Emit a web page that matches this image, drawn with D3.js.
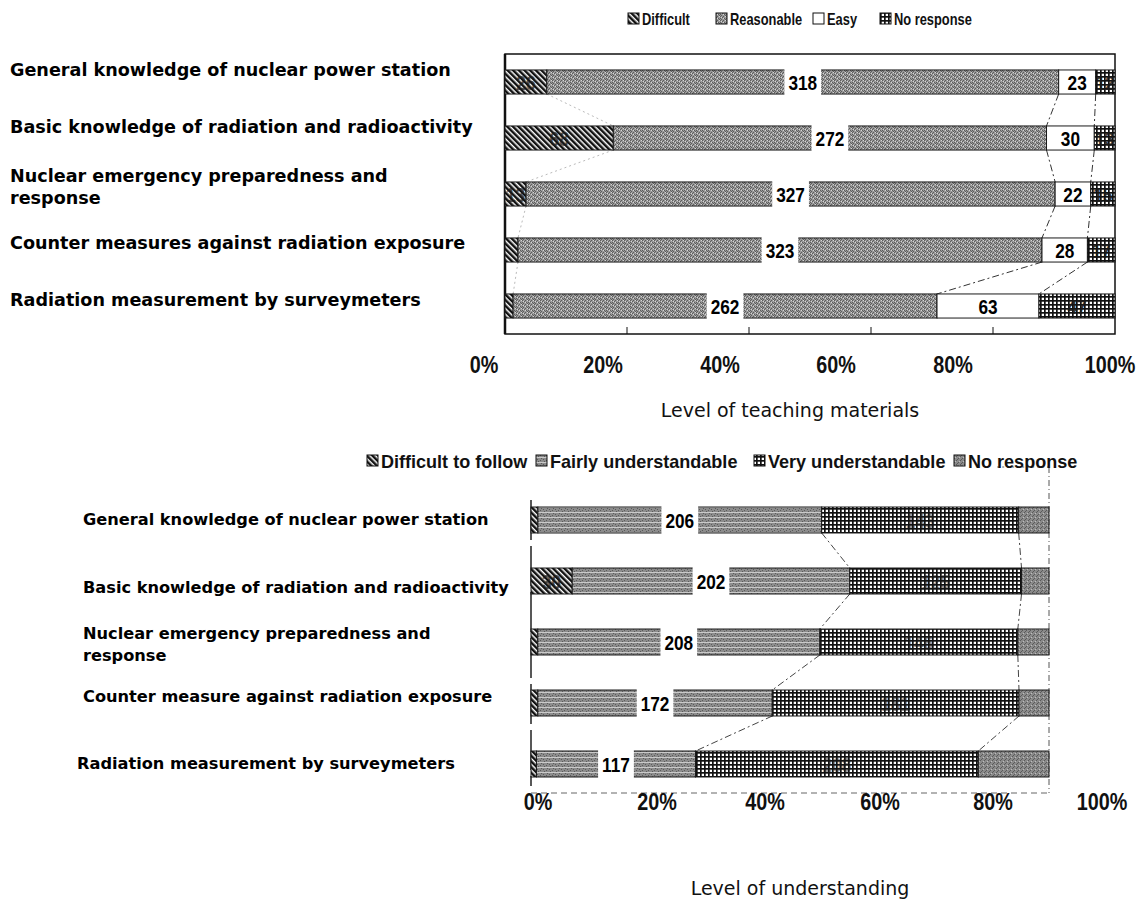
<!DOCTYPE html>
<html>
<head>
<meta charset="utf-8">
<script src="https://cdn.jsdelivr.net/npm/d3@7"></script>
<style>
  body { margin: 0; background: #fff; }
  svg { display: block; }
</style>
</head>
<body>
<svg id="chart" width="1148" height="904"></svg>
<script>
// ---------- Level of teaching materials ----------
const topCategories = [
  ["General knowledge of nuclear power station"],
  ["Basic knowledge of radiation and radioactivity"],
  ["Nuclear emergency preparedness and", "response"],
  ["Counter measures against radiation exposure"],
  ["Radiation measurement by surveymeters"]
];
const topSeriesNames = ["Difficult", "Reasonable", "Easy", "No response"];
const topDifficult  = [26, 68, 13, 8, 5];
const topReasonable = [318, 272, 327, 323, 262];
const topEasy       = [23, 30, 22, 28, 63];
const topNoResponse = [12, 13, 15, 17, 47];

// ---------- Level of understanding ----------
const bottomCategories = [
  ["General knowledge of nuclear power station"],
  ["Basic knowledge of radiation and radioactivity"],
  ["Nuclear emergency preparedness and", "response"],
  ["Counter measure against radiation exposure"],
  ["Radiation measurement by surveymeters"]
];
const bottomSeriesNames = ["Difficult to follow", "Fairly understandable", "Very understandable", "No response"];
const bottomDifficult  = [5, 30, 5, 5, 4];
const bottomFairly     = [206, 202, 208, 172, 117];
const bottomVery       = [143, 125, 146, 181, 208];
const bottomNoResponse = [22, 20, 23, 22, 52];

const percentTicks = [0, 20, 40, 60, 80, 100];

// ---------- drawing ----------
const svg = d3.select("#chart");
const defs = svg.append("defs");

const NUM_FONT = "'Liberation Sans', Arial, sans-serif";
const CAT_FONT = "'DejaVu Sans', 'Liberation Sans', sans-serif";

// Fill patterns
(function () {
  const p = defs.append("pattern").attr("id", "pDifficult").attr("patternUnits", "userSpaceOnUse")
    .attr("width", 4).attr("height", 4).attr("patternTransform", "rotate(-45)");
  p.append("rect").attr("width", 4).attr("height", 4).attr("fill", "#fff");
  p.append("rect").attr("width", 2.5).attr("height", 4).attr("fill", "#111");
})();

(function () {
  const p = defs.append("pattern").attr("id", "pReasonable").attr("patternUnits", "userSpaceOnUse")
    .attr("width", 6).attr("height", 4);
  p.append("rect").attr("width", 6).attr("height", 4).attr("fill", "#9a9a9a");
  [[0,0],[2,1],[4,2],[1,3],[3,0],[5,3],[0,2]].forEach(([x, y]) =>
    p.append("rect").attr("x", x).attr("y", y).attr("width", 1).attr("height", 1).attr("fill", "#5c5c5c"));
  [[1,1],[5,0],[3,2]].forEach(([x, y]) =>
    p.append("rect").attr("x", x).attr("y", y).attr("width", 1).attr("height", 1).attr("fill", "#d6d6d6"));
})();

(function () {
  const p = defs.append("pattern").attr("id", "pGrid").attr("patternUnits", "userSpaceOnUse")
    .attr("width", 4).attr("height", 4);
  p.append("rect").attr("width", 4).attr("height", 4).attr("fill", "#fff");
  p.append("rect").attr("width", 4).attr("height", 1.7).attr("fill", "#111");
  p.append("rect").attr("width", 1.7).attr("height", 4).attr("fill", "#111");
})();

(function () {
  const p = defs.append("pattern").attr("id", "pFairly").attr("patternUnits", "userSpaceOnUse")
    .attr("width", 6).attr("height", 5);
  p.append("rect").attr("width", 6).attr("height", 5).attr("fill", "#8c8c8c");
  p.append("rect").attr("y", 2).attr("width", 6).attr("height", 1).attr("fill", "#cacaca");
  [[0,0],[3,4],[1,3],[4,1]].forEach(([x, y]) =>
    p.append("rect").attr("x", x).attr("y", y).attr("width", 1).attr("height", 1).attr("fill", "#5a5a5a"));
})();

(function () {
  const p = defs.append("pattern").attr("id", "pNoResp2").attr("patternUnits", "userSpaceOnUse")
    .attr("width", 4).attr("height", 4);
  p.append("rect").attr("width", 4).attr("height", 4).attr("fill", "#8a8a8a");
  [[0,0],[2,2],[1,3]].forEach(([x, y]) =>
    p.append("rect").attr("x", x).attr("y", y).attr("width", 1).attr("height", 1).attr("fill", "#5a5a5a"));
  p.append("rect").attr("x", 3).attr("y", 1).attr("width", 1).attr("height", 1).attr("fill", "#bdbdbd");
})();

// Text squeezed horizontally to imitate the condensed print face
function narrowText(parent, x, y, str, size, sx, anchor) {
  return parent.append("text")
    .attr("transform", `translate(${x},${y}) scale(${sx},1)`)
    .attr("text-anchor", anchor || "middle").attr("dy", "0.36em")
    .attr("font-family", NUM_FONT).attr("font-weight", "bold")
    .attr("font-size", size).attr("fill", "#000")
    .text(str);
}

function stackRows(names, cols) {
  const rows = cols[0].map((_, i) => {
    const o = { idx: i };
    names.forEach((n, k) => { o[n] = cols[k][i]; });
    return o;
  });
  return d3.stack().keys(names).offset(d3.stackOffsetExpand)(rows);
}

function drawPanel(cfg) {
  const g = svg.append("g");
  const x = d3.scaleLinear().domain([0, 1]).range([cfg.x0, cfg.x1]);
  const y = d3.scaleBand().domain(d3.range(cfg.categories.length))
    .range([cfg.y0, cfg.y1]).paddingInner(cfg.pad).paddingOuter(cfg.pad / 2);
  const stacked = stackRows(cfg.series, cfg.values);

  cfg.frame(g, x, y);

  // series lines joining the segment boundaries of neighbouring bars
  cfg.seriesLines.forEach(sl => {
    const layer = stacked[sl.layer];
    for (let i = 0; i < layer.length - 1; i++) {
      g.append("line")
        .attr("x1", x(layer[i][sl.edge])).attr("y1", y(i) + y.bandwidth())
        .attr("x2", x(layer[i + 1][sl.edge])).attr("y2", y(i + 1))
        .attr("stroke", sl.color).attr("stroke-width", sl.width)
        .attr("stroke-dasharray", sl.dash);
    }
  });

  // bars
  stacked.forEach((layer, k) => {
    g.append("g").selectAll("rect").data(layer).join("rect")
      .attr("x", d => x(d[0]))
      .attr("y", (d, i) => y(i))
      .attr("width", d => x(d[1]) - x(d[0]))
      .attr("height", y.bandwidth())
      .attr("fill", cfg.fills[k])
      .attr("stroke", "#1a1a1a").attr("stroke-width", 1);
  });

  // data labels
  stacked.forEach((layer, k) => {
    const mode = cfg.labelModes[k];
    if (mode === "none") return;
    layer.forEach((d, i) => {
      const w = x(d[1]) - x(d[0]);
      if (w < cfg.minLabelWidth[k]) return;
      const cx = (x(d[0]) + x(d[1])) / 2;
      const cy = y(i) + y.bandwidth() / 2;
      const t = narrowText(g, cx, cy, cfg.values[k][i], cfg.labelSize, 0.82);
      if (mode === "box") {
        const tw = t.node().getComputedTextLength() * 0.82;
        g.insert("rect", () => t.node())
          .attr("x", cx - tw / 2 - 4).attr("y", y(i) - 1)
          .attr("width", tw + 8).attr("height", y.bandwidth() + 2)
          .attr("fill", "#fff");
      } else if (mode === "faint") {
        t.attr("fill", "#1a1a1a").attr("opacity", cfg.faintOpacity[k]);
      }
    });
  });

  // category labels
  cfg.categories.forEach((lines, i) => {
    const cy = y(i) + y.bandwidth() / 2 + cfg.catShift[i];
    const cx = cfg.catX + cfg.catDx[i];
    const t = svg.append("text")
      .attr("x", cx).attr("y", cy - (lines.length - 1) * cfg.catLine / 2)
      .attr("font-family", CAT_FONT).attr("font-weight", "bold")
      .attr("font-size", cfg.catSize).attr("fill", "#000");
    lines.forEach((ln, j) => {
      t.append("tspan").attr("x", cx).attr("dy", j === 0 ? "0.35em" : cfg.catLine).text(ln);
    });
  });

  // percent tick labels
  const tx = d3.scaleLinear().domain([0, 20, 40, 60, 80, 100]).range(cfg.tickLabelPos);
  percentTicks.forEach(d => {
    narrowText(g, tx(d), cfg.tickLabelY, d + "%", 23, 0.86).attr("fill", "#111");
  });

  // axis title
  g.append("text").attr("x", cfg.titleX).attr("y", cfg.titleY)
    .attr("text-anchor", "middle").attr("dy", "0.36em")
    .attr("font-family", CAT_FONT).attr("font-size", 19).attr("fill", "#111")
    .text(cfg.title);

  // legend
  cfg.series.forEach((name, k) => {
    const lx = cfg.legendPos[k];
    g.append("rect").attr("x", lx).attr("y", cfg.legendY - 6)
      .attr("width", 11).attr("height", 11)
      .attr("fill", cfg.fills[k]).attr("stroke", "#111").attr("stroke-width", 1);
    narrowText(g, lx + 14, cfg.legendY, name, cfg.legendSize, cfg.legendSx, "start").attr("fill", "#111");
  });
}

// Upper panel
drawPanel({
  categories: topCategories, series: topSeriesNames,
  values: [topDifficult, topReasonable, topEasy, topNoResponse],
  x0: 505, x1: 1115, y0: 54, y1: 334, pad: 0.57,
  fills: ["url(#pDifficult)", "url(#pReasonable)", "#fff", "url(#pGrid)"],
  labelModes: ["faint", "box", "plain", "faint"],
  faintOpacity: [0.7, 1, 1, 0.85],
  minLabelWidth: [18, 0, 0, 0],
  labelSize: 21,
  seriesLines: [
    { layer: 0, edge: 1, color: "#bbb", width: 1, dash: "2,3" },
    { layer: 2, edge: 0, color: "#333", width: 1, dash: "7,3,2,3" },
    { layer: 3, edge: 0, color: "#333", width: 1, dash: "7,3,2,3" }
  ],
  frame: (g, x, y) => {
    g.append("rect").attr("x", x(0)).attr("y", 54).attr("width", x(1) - x(0)).attr("height", 280)
      .attr("fill", "none").attr("stroke", "#111").attr("stroke-width", 1.5);
    g.append("line").attr("x1", x(0)).attr("x2", x(0)).attr("y1", 54).attr("y2", 334)
      .attr("stroke", "#111").attr("stroke-width", 2.5);
    g.append("g").selectAll("line").data(percentTicks.slice(1, -1)).join("line")
      .attr("x1", d => x(d / 100)).attr("x2", d => x(d / 100))
      .attr("y1", 334).attr("y2", 327).attr("stroke", "#111");
  },
  catX: 10, catDx: [0, 0, 0, 0, 0], catSize: 17.6, catLine: 22,
  catShift: [-12, -11, -7, -7, -6],
  tickLabelPos: [484, 603, 720, 836, 953, 1110], tickLabelY: 365,
  title: "Level of teaching materials", titleX: 790, titleY: 410,
  legendPos: [628, 716, 813, 880], legendY: 19, legendSize: 16.5, legendSx: 0.78
});

// Lower panel
drawPanel({
  categories: bottomCategories, series: bottomSeriesNames,
  values: [bottomDifficult, bottomFairly, bottomVery, bottomNoResponse],
  x0: 531, x1: 1049, y0: 489.5, y1: 794.5, pad: 0.574,
  fills: ["url(#pDifficult)", "url(#pFairly)", "url(#pGrid)", "url(#pNoResp2)"],
  labelModes: ["faint", "box", "faint", "none"],
  faintOpacity: [0.7, 1, 0.45, 0],
  minLabelWidth: [18, 0, 0, 0],
  labelSize: 21,
  seriesLines: [
    { layer: 2, edge: 0, color: "#444", width: 1, dash: "7,3,2,3" },
    { layer: 3, edge: 0, color: "#444", width: 1, dash: "7,3,2,3" }
  ],
  frame: (g, x, y) => {
    g.append("line").attr("x1", x(0.9)).attr("x2", x(1)).attr("y1", 467).attr("y2", 467)
      .attr("stroke", "#666").attr("stroke-dasharray", "2,3");
    g.append("line").attr("x1", x(1)).attr("x2", x(1)).attr("y1", 467).attr("y2", 793)
      .attr("stroke", "#555").attr("stroke-dasharray", "6,3,1,3");
    g.append("line").attr("x1", x(0)).attr("x2", x(1)).attr("y1", 793).attr("y2", 793)
      .attr("stroke", "#666").attr("stroke-dasharray", "6,4");
    g.append("line").attr("x1", x(0)).attr("x2", x(0)).attr("y1", 500).attr("y2", 786)
      .attr("stroke", "#222").attr("stroke-width", 1.5).attr("stroke-dasharray", "40,6");
  },
  catX: 83, catDx: [0, 0, 0, 0, -6], catSize: 16.2, catLine: 22,
  catShift: [-1, 6, 2, -7, -1],
  tickLabelPos: [538, 657, 765, 880, 993, 1102], tickLabelY: 802,
  title: "Level of understanding", titleX: 800, titleY: 888,
  legendPos: [367, 536, 754, 954], legendY: 461, legendSize: 19, legendSx: 0.95
});
</script>
</body>
</html>
